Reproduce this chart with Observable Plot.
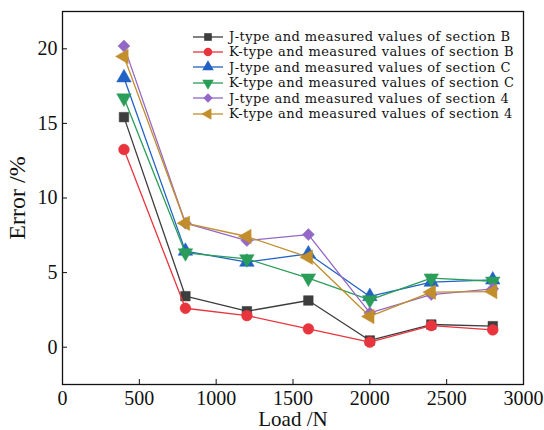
<!DOCTYPE html>
<html>
<head>
<meta charset="utf-8">
<script src="https://cdn.jsdelivr.net/npm/d3@7"></script>
<script src="https://cdn.jsdelivr.net/npm/@observablehq/plot@0.6"></script>
<style>
  html, body { margin: 0; padding: 0; background: #fff; }
  #wrap { position: relative; width: 544px; height: 430px; font-family: "Liberation Serif", "DejaVu Serif", serif; }
  #legend { position: absolute; left: 192px; top: 29px; font-family: "DejaVu Serif", serif; font-size: 13px; letter-spacing: 0.45px; line-height: 15.4px; color: #111; }
  #legend .row { display: flex; align-items: center; height: 15.4px; white-space: nowrap; }
  #legend svg { margin-right: 5px; }
</style>
</head>
<body>
<div id="wrap"><div id="legend"></div></div>
<script>
// ---- data ----
const loads = [400, 800, 1200, 1600, 2000, 2400, 2800];
const seriesNames = [
  "J-type and measured values of section B",
  "K-type and measured values of section B",
  "J-type and measured values of section C",
  "K-type and measured values of section C",
  "J-type and measured values of section 4",
  "K-type and measured values of section 4"
];
const jB = [15.42, 3.42, 2.41, 3.13, 0.45, 1.52, 1.41];
const kB = [13.25, 2.61, 2.12, 1.23, 0.34, 1.45, 1.16];
const jC = [18.06, 6.44, 5.70, 6.26, 3.40, 4.36, 4.51];
const kC = [16.70, 6.32, 5.92, 4.63, 3.17, 4.63, 4.42];
const j4 = [20.18, 8.31, 7.15, 7.55, 2.30, 3.53, 3.91];
const k4 = [19.49, 8.31, 7.42, 6.03, 2.06, 3.69, 3.73];
const seriesValues = [jB, kB, jC, kC, j4, k4];
const xTicks = [0, 500, 1000, 1500, 2000, 2500, 3000];
const yTicks = [0, 5, 10, 15, 20];

// ---- styles ----
const colors = ["#3d3d3d", "#e8353d", "#2162c4", "#2a9e58", "#9468c6", "#c28e2c"];
const sqrt3 = Math.sqrt(3);
const triDown = { draw(c, size) { const y = -Math.sqrt(size / (sqrt3 * 3)); c.moveTo(0, -y * 2); c.lineTo(-sqrt3 * y, y); c.lineTo(sqrt3 * y, y); c.closePath(); } };
const triLeft = { draw(c, size) { const y = -Math.sqrt(size / (sqrt3 * 3)); c.moveTo(y * 2, 0); c.lineTo(-y, -sqrt3 * y); c.lineTo(-y, sqrt3 * y); c.closePath(); } };
const symbols = [d3.symbolSquare, d3.symbolCircle, d3.symbolTriangle, triDown, d3.symbolDiamond2, triLeft];

const rows = [];
seriesNames.forEach((s, i) => loads.forEach((x, j) => rows.push({ series: s, load: x, error: seriesValues[i][j] })));

const marks = [];
seriesNames.forEach((s, i) => {
  const d = rows.filter(r => r.series === s);
  marks.push(Plot.line(d, { x: "load", y: "error", stroke: colors[i], strokeWidth: 1.3 }));
  marks.push(Plot.dot(d, { x: "load", y: "error", symbol: () => s, fill: colors[i], stroke: colors[i], strokeWidth: 0.5, r: 5.4 }));
});

const chart = Plot.plot({
  width: 544,
  height: 430,
  marginLeft: 62,
  marginRight: 21,
  marginTop: 11,
  marginBottom: 46,
  style: { fontFamily: "'Liberation Serif', 'DejaVu Serif', serif", fontSize: "20px", color: "#111", background: "#fff" },
  x: { domain: [0, 3000] },
  y: { domain: [-2.5, 22.5] },
  symbol: { domain: seriesNames, range: symbols },
  marks: [
    ...marks,
    Plot.frame({ stroke: "#111", strokeWidth: 1.3 }),
    Plot.axisX({ ticks: xTicks, tickSize: -5, tickPadding: 11, tickFormat: d => String(d), label: null, fontSize: 20 }),
    Plot.axisX({ ticks: [], label: "Load /N", labelAnchor: "center", labelArrow: "none", labelOffset: 41, fontSize: 21 }),
    Plot.axisY({ ticks: yTicks, tickSize: -5, tickPadding: 10, tickFormat: d => String(d), label: null, fontSize: 20 }),
    Plot.axisY({ ticks: [], label: "Error /%", labelAnchor: "center", labelArrow: "none", labelOffset: 55, fontSize: 24 })
  ]
});
document.getElementById("wrap").prepend(chart);

// ---- legend ----
const legend = d3.select("#legend");
seriesNames.forEach((s, i) => {
  const row = legend.append("div").attr("class", "row");
  const svg = row.append("svg").attr("width", 32).attr("height", 14);
  svg.append("line").attr("x1", 1).attr("x2", 31).attr("y1", 7).attr("y2", 7).attr("stroke", colors[i]).attr("stroke-width", 1.3);
  svg.append("path").attr("transform", "translate(16,7)").attr("d", d3.symbol(symbols[i], 4.3 * 4.3 * Math.PI)()).attr("fill", colors[i]);
  row.append("span").text(s);
});
</script>
</body>
</html>
